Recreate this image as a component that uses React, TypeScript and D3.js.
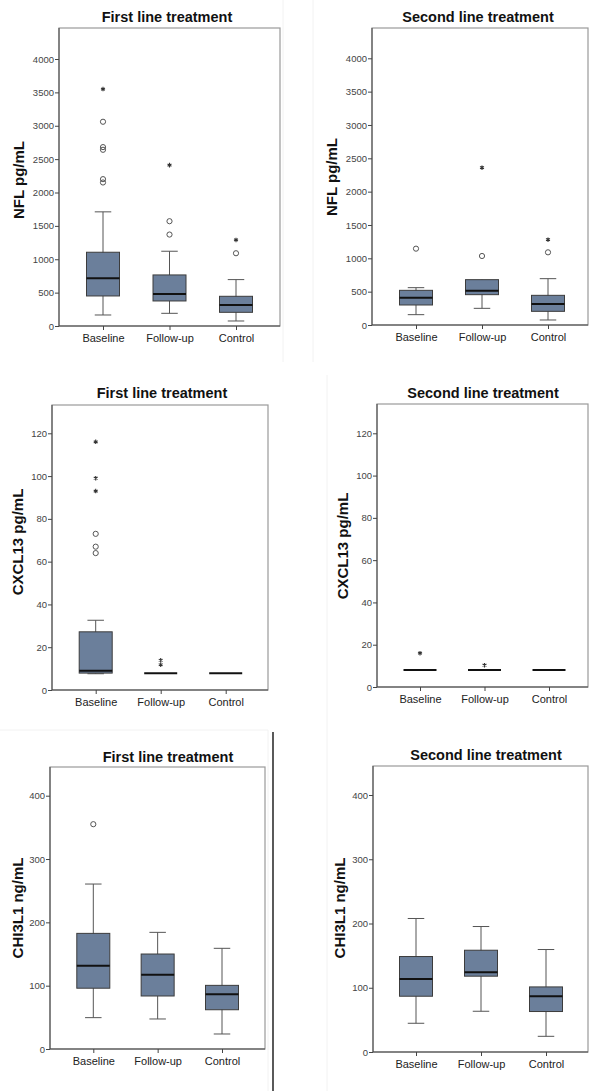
import React, { useEffect, useRef } from 'react'
import * as d3 from 'd3'

// groups on the x axis
const groups = ['Baseline', 'Follow-up', 'Control']

// box stats per group: [low whisker, Q1, median, Q3, high whisker]
const nflFirstBoxes = [
	[165, 450, 715, 1105, 1710],
	[190, 375, 480, 765, 1120],
	[75, 205, 315, 445, 695],
]
const nflFirstCircles = [[3060, 2680, 2640, 2200, 2150], [1570, 1370], [1090]]
const nflFirstStars = [[3550], [2410], [1290]]

const nflSecondBoxes = [
	[155, 300, 410, 520, 560],
	[250, 455, 515, 680, 680],
	[75, 205, 315, 445, 695],
]
const nflSecondCircles = [[1145], [1035], [1090]]
const nflSecondStars = [[], [2360], [1280]]

const cxclFirstBoxes = [
	[7.6, 7.9, 9, 27.2, 32.6],
	[7.8, 7.8, 7.8, 7.8, 7.8],
	[7.8, 7.8, 7.8, 7.8, 7.8],
]
const cxclFirstCircles = [[73, 67, 64], [], []]
const cxclFirstStars = [[116, 99, 93], [13.9, 11.8], []]

const cxclSecondBoxes = [
	[8, 8, 8, 8, 8],
	[8, 8, 8, 8, 8],
	[8, 8, 8, 8, 8],
]
const cxclSecondCircles = [[], [], []]
const cxclSecondStars = [[16], [10.3], []]

const chiFirstBoxes = [
	[49.5, 96, 131.6, 182.6, 260.5],
	[47.4, 83.7, 117.4, 150, 184.2],
	[23.7, 62, 86.3, 100.5, 159],
]
const chiFirstCircles = [[355], [], []]
const chiFirstStars = [[], [], []]

const chiSecondBoxes = [
	[44.7, 86.8, 113.8, 148.6, 207.8],
	[63.4, 118, 124.2, 158.4, 195.3],
	[24.4, 63, 86.8, 101.3, 159.5],
]
const chiSecondCircles = [[], [], []]
const chiSecondStars = [[], [], []]

const nflTicks = [0, 500, 1000, 1500, 2000, 2500, 3000, 3500, 4000]
const cxclTicks = [0, 20, 40, 60, 80, 100, 120]
const chiTicks = [0, 100, 200, 300, 400]

const panels = [
	{ title: 'First line treatment', label: 'NFL pg/mL', boxes: nflFirstBoxes, circles: nflFirstCircles, stars: nflFirstStars, ticks: nflTicks,
		left: 59, top: 28, right: 280, axisY: 326, topTickY: 59, c0: 103, c2: 236, titleX: 167, titleY: 22, labelX: 24, labelY: 180 },
	{ title: 'Second line treatment', label: 'NFL pg/mL', boxes: nflSecondBoxes, circles: nflSecondCircles, stars: nflSecondStars, ticks: nflTicks,
		left: 372, top: 28, right: 588, axisY: 325, topTickY: 58.3, c0: 416, c2: 548, titleX: 478, titleY: 22, labelX: 337, labelY: 177 },
	{ title: 'First line treatment', label: 'CXCL13 pg/mL', boxes: cxclFirstBoxes, circles: cxclFirstCircles, stars: cxclFirstStars, ticks: cxclTicks,
		left: 52, top: 405, right: 268, axisY: 690, topTickY: 433.3, c0: 95.7, c2: 225.7, titleX: 162, titleY: 398, labelX: 23, labelY: 542 },
	{ title: 'Second line treatment', label: 'CXCL13 pg/mL', boxes: cxclSecondBoxes, circles: cxclSecondCircles, stars: cxclSecondStars, ticks: cxclTicks,
		left: 377, top: 404, right: 588, axisY: 687, topTickY: 433.3, c0: 420, c2: 549, titleX: 483, titleY: 398, labelX: 348, labelY: 546 },
	{ title: 'First line treatment', label: 'CHI3L1 ng/mL', boxes: chiFirstBoxes, circles: chiFirstCircles, stars: chiFirstStars, ticks: chiTicks,
		left: 50, top: 767, right: 265, axisY: 1049, topTickY: 795.7, c0: 93.3, c2: 222, titleX: 168, titleY: 762, labelX: 23, labelY: 908 },
	{ title: 'Second line treatment', label: 'CHI3L1 ng/mL', boxes: chiSecondBoxes, circles: chiSecondCircles, stars: chiSecondStars, ticks: chiTicks,
		left: 373, top: 766, right: 588, axisY: 1052, topTickY: 795, c0: 416, c2: 546, titleX: 486, titleY: 760, labelX: 345, labelY: 908 },
]

const FILL = '#6b7f9b'
const FONT = 'Liberation Sans, Arial, sans-serif'

function drawPanel(svg, p) {
	const g = svg.append('g')
	const maxTick = p.ticks[p.ticks.length - 1]
	const y = d3.scaleLinear().domain([0, maxTick]).range([p.axisY, p.topTickY])
	const x = d3.scalePoint().domain(groups).range([p.c0, p.c2])
	const boxW = 33

	// frame
	g.append('rect')
		.attr('x', p.left)
		.attr('y', p.top)
		.attr('width', p.right - p.left)
		.attr('height', p.axisY - p.top)
		.attr('fill', 'none')
		.attr('stroke', '#9a9a9a')
		.attr('stroke-width', 1.2)

	const yAxis = g.append('g')
		.attr('transform', `translate(${p.left},0)`)
		.call(d3.axisLeft(y).tickValues(p.ticks).tickFormat(d3.format('d')).tickSize(4).tickPadding(1).tickSizeOuter(0))
	yAxis.select('.domain').attr('d', `M0,${p.top}V${p.axisY}`).attr('stroke', '#444')
	yAxis.selectAll('.tick line').attr('stroke', '#444')
	yAxis.selectAll('text').attr('font-family', FONT).attr('font-size', 9.5).attr('fill', '#444')

	const xAxis = g.append('g')
		.attr('transform', `translate(0,${p.axisY})`)
		.call(d3.axisBottom(x).tickSize(4).tickPadding(4).tickSizeOuter(0))
	xAxis.select('.domain').attr('d', `M${p.left},0H${p.right}`).attr('stroke', '#444')
	xAxis.selectAll('.tick line').attr('stroke', '#444')
	xAxis.selectAll('text').attr('font-family', FONT).attr('font-size', 11).attr('fill', '#222')

	const items = g.selectAll('.box').data(p.boxes).enter().append('g')

	// whiskers
	items.append('line')
		.attr('x1', (d, i) => x(groups[i]))
		.attr('x2', (d, i) => x(groups[i]))
		.attr('y1', (d) => y(d[0]))
		.attr('y2', (d) => y(d[4]))
		.attr('stroke', '#555')
	items.each(function (d, i) {
		const cx = x(groups[i])
		const sel = d3.select(this)
		if (d[0] !== d[1]) {
			sel.append('line').attr('x1', cx - boxW / 4).attr('x2', cx + boxW / 4)
				.attr('y1', y(d[0])).attr('y2', y(d[0])).attr('stroke', '#555')
		}
		if (d[4] !== d[3]) {
			sel.append('line').attr('x1', cx - boxW / 4).attr('x2', cx + boxW / 4)
				.attr('y1', y(d[4])).attr('y2', y(d[4])).attr('stroke', '#555')
		}
	})

	items.append('rect')
		.attr('x', (d, i) => x(groups[i]) - boxW / 2)
		.attr('y', (d) => y(d[3]))
		.attr('width', boxW)
		.attr('height', (d) => y(d[1]) - y(d[3]))
		.attr('fill', FILL)
		.attr('stroke', '#3c3c3c')
		.attr('stroke-width', 1)

	items.append('line')
		.attr('x1', (d, i) => x(groups[i]) - boxW / 2)
		.attr('x2', (d, i) => x(groups[i]) + boxW / 2)
		.attr('y1', (d) => y(d[2]))
		.attr('y2', (d) => y(d[2]))
		.attr('stroke', '#111')
		.attr('stroke-width', 2)

	// outliers
	p.circles.forEach((vals, i) => {
		g.selectAll(null).data(vals).enter().append('circle')
			.attr('cx', x(groups[i]))
			.attr('cy', (v) => y(v))
			.attr('r', 2.6)
			.attr('fill', 'none')
			.attr('stroke', '#555')
			.attr('stroke-width', 1)
	})
	const star = d3.symbol(d3.symbolAsterisk, 14)
	p.stars.forEach((vals, i) => {
		g.selectAll(null).data(vals).enter().append('path')
			.attr('d', star)
			.attr('transform', (v) => `translate(${x(groups[i])},${y(v)})`)
			.attr('fill', 'none')
			.attr('stroke', '#333')
			.attr('stroke-width', 1.1)
	})

	g.append('text')
		.attr('x', p.titleX)
		.attr('y', p.titleY)
		.attr('text-anchor', 'middle')
		.attr('font-family', FONT)
		.attr('font-weight', 'bold')
		.attr('font-size', 14.5)
		.attr('fill', '#111')
		.text(p.title)

	g.append('text')
		.attr('transform', `translate(${p.labelX},${p.labelY}) rotate(-90)`)
		.attr('text-anchor', 'middle')
		.attr('font-family', FONT)
		.attr('font-weight', 'bold')
		.attr('font-size', 15)
		.attr('fill', '#111')
		.text(p.label)
}

export default function App() {
	const ref = useRef(null)
	useEffect(() => {
		const svg = d3.select(ref.current)
		svg.selectAll('*').remove()
		// faint borders of the pasted figures
		svg.append('line').attr('x1', 283).attr('x2', 283).attr('y1', 0).attr('y2', 362).attr('stroke', '#f2f2f2')
		svg.append('line').attr('x1', 313).attr('x2', 313).attr('y1', 0).attr('y2', 362).attr('stroke', '#f2f2f2')
		svg.append('line').attr('x1', 327).attr('x2', 327).attr('y1', 375).attr('y2', 1091).attr('stroke', '#f2f2f2')
		svg.append('line').attr('x1', 0).attr('x2', 268).attr('y1', 730).attr('y2', 730).attr('stroke', '#f2f2f2')
		svg.append('line').attr('x1', 268).attr('x2', 268).attr('y1', 730).attr('y2', 1091).attr('stroke', '#f2f2f2')
		panels.forEach((p) => drawPanel(svg, p))
		// divider line
		svg.append('line').attr('x1', 273).attr('x2', 273).attr('y1', 732).attr('y2', 1091).attr('stroke', '#000').attr('stroke-width', 1.3)
	}, [])
	return (
		<svg
			ref={ref}
			width={589}
			height={1091}
			style={{ position: 'absolute', left: 0, top: 0, background: '#fff' }}
		/>
	)
}
